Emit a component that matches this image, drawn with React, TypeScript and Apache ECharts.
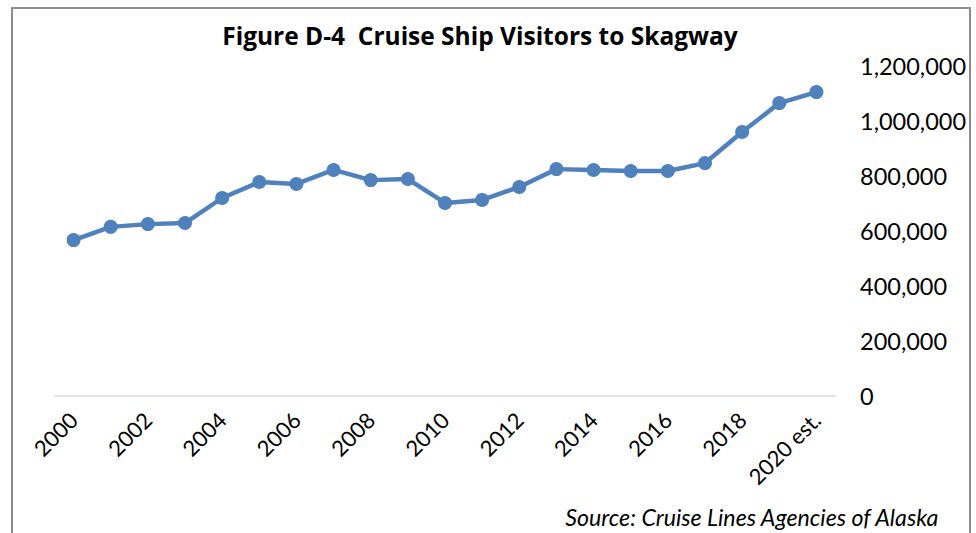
import React, { useEffect, useRef } from "react";
import * as echarts from "echarts";

const categories = [
  "2000", "2001", "2002", "2003", "2004", "2005", "2006", "2007", "2008", "2009",
  "2010", "2011", "2012", "2013", "2014", "2015", "2016", "2017", "2018", "2019", "2020 est.",
];
const visitors = [
  567000, 615000, 625000, 629000, 720000, 778000, 771000, 822000, 785000, 789000,
  702000, 713000, 760000, 825000, 822000, 818000, 818000, 847000, 960000, 1065000, 1105000,
];
const yTicks = { min: 0, max: 1200000, interval: 200000 };
const titleText = "Figure D-4  Cruise Ship Visitors to Skagway";
const sourceText = "Source: Cruise Lines Agencies of Alaska";

export default function App() {
  const ref = useRef<HTMLDivElement>(null);
  useEffect(() => {
    if (!ref.current) return;
    const chart = echarts.init(ref.current, null, { renderer: "svg" });
    const font = "Lato, 'Open Sans', sans-serif";
    chart.setOption({
      animation: false,
      backgroundColor: "#ffffff",
      textStyle: { fontFamily: font },
      title: {
        text: titleText,
        left: 475,
        textAlign: "center",
        top: 18,
        textStyle: { fontSize: 24.5, fontWeight: "bold", color: "#000000", fontFamily: "'Open Sans', sans-serif" },
      },
      grid: { left: 55, right: 141, top: 66, bottom: 137, containLabel: false },
      xAxis: {
        type: "category",
        data: categories,
        boundaryGap: true,
        axisLine: { show: true, lineStyle: { color: "#d9d9d9", width: 1.5 } },
        axisTick: { show: false },
        axisLabel: {
          interval: 1,
          rotate: 45,
          margin: 20,
          fontSize: 22,
          color: "#000000",
          fontFamily: font,
        },
        splitLine: { show: false },
      },
      yAxis: {
        type: "value",
        position: "right",
        min: yTicks.min,
        max: yTicks.max,
        interval: yTicks.interval,
        axisLine: { show: false },
        axisTick: { show: false },
        splitLine: { show: false },
        axisLabel: {
          margin: 25,
          align: "left",
          fontSize: 23.5,
          color: "#000000",
          fontFamily: font,
          formatter: (v: number) => v.toLocaleString("en-US"),
        },
      },
      series: [
        {
          type: "line",
          data: visitors,
          symbol: "circle",
          symbolSize: 14,
          lineStyle: { color: "#4F81BD", width: 4.5 },
          itemStyle: { color: "#4F81BD" },
        },
      ],
      graphic: [
        {
          type: "rect",
          shape: { x: 12, y: 8, width: 958, height: 540 },
          style: { fill: "none", stroke: "#8c8c8c", lineWidth: 2 },
          silent: true,
        },
        {
          type: "text",
          right: 36,
          top: 505,
          style: {
            text: sourceText,
            fontSize: 23.2,
            fontStyle: "italic",
            fill: "#000000",
            fontFamily: font,
          },
        },
      ],
    });
    return () => chart.dispose();
  }, []);
  return (
    <div
      ref={ref}
      style={{ position: "fixed", left: 0, top: 0, width: 976, height: 533 }}
    />
  );
}
